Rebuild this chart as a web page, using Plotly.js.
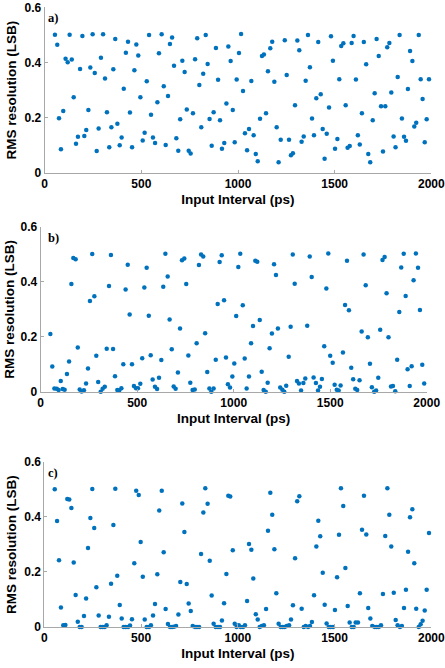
<!DOCTYPE html>
<html>
<head>
<meta charset="utf-8">
<script src="https://cdn.plot.ly/plotly-3.0.1.min.js"></script>
<style>html,body{margin:0;padding:0;background:#fff;}#chart{width:445px;height:668px;}</style>
</head>
<body>
<div id="chart"></div>
<script>
// Panel a)
var xa = [53,65,74,84,96,108,119,129,140,150,162,172,183,195,205,215,226,236,248,259,269,279,291,302,312,322,334,345,355,365,376,388,398,409,420,431,441,452,464,474,484,495,507,517,528,540,550,560,571,583,591,605,616,626,638,648,659,669,681,691,701,712,724,735,745,755,767,778,789,800,810,820,833,843,853,864,874,886,897,907,917,929,940,950,962,973,983,993,1005,1016,1026,1036,1047,1057,1069,1081,1092,1102,1114,1124,1134,1145,1155,1167,1177,1188,1200,1210,1221,1242,1252,1264,1274,1284,1295,1307,1317,1329,1340,1350,1362,1372,1383,1393,1405,1415,1428,1438,1448,1459,1471,1481,1491,1502,1514,1524,1534,1545,1557,1567,1578,1588,1598,1610,1620,1630,1641,1651,1663,1674,1684,1697,1707,1717,1728,1740,1750,1762,1772,1783,1793,1805,1815,1826,1836,1848,1859,1869,1879,1890,1902,1912,1922,1935,1945,1955,1966,1976,1988];
var ya = [0.50,0.464,0.197,0.084,0.223,0.413,0.40,0.50,0.41,0.273,0.104,0.13,0.376,0.496,0.133,0.154,0.227,0.381,0.502,0.361,0.078,0.16,0.417,0.502,0.341,0.219,0.092,0.164,0.375,0.485,0.177,0.099,0.127,0.304,0.435,0.475,0.218,0.092,0.371,0.465,0.425,0.273,0.116,0.144,0.331,0.499,0.21,0.127,0.107,0.255,0.433,0.502,0.313,0.10,0.278,0.467,0.49,0.388,0.124,0.079,0.193,0.406,0.365,0.229,0.079,0.069,0.215,0.411,0.488,0.318,0.164,0.359,0.499,0.394,0.194,0.097,0.219,0.452,0.337,0.19,0.086,0.107,0.251,0.458,0.405,0.227,0.11,0.338,0.434,0.503,0.296,0.143,0.081,0.158,0.332,0.135,0.067,0.041,0.195,0.423,0.429,0.215,0.368,0.451,0.475,0.33,0.164,0.037,0.119,0.48,0.354,0.119,0.063,0.07,0.244,0.479,0.444,0.112,0.131,0.333,0.499,0.382,0.196,0.135,0.27,0.474,0.284,0.158,0.05,0.141,0.236,0.495,0.406,0.086,0.122,0.339,0.459,0.469,0.244,0.09,0.096,0.47,0.496,0.338,0.135,0.102,0.215,0.474,0.393,0.067,0.037,0.19,0.288,0.485,0.423,0.241,0.076,0.241,0.455,0.47,0.291,0.131,0.092,0.347,0.499,0.196,0.13,0.115,0.303,0.441,0.405,0.167,0.181,0.499,0.339,0.267,0.11,0.193,0.339];

// Panel b)
var xb = [50,60,71,83,93,104,114,124,136,147,159,169,181,192,202,212,224,235,245,255,267,278,288,298,311,321,332,342,354,364,375,385,397,407,418,428,440,451,461,473,483,494,504,516,526,537,549,560,570,580,592,603,613,625,635,646,658,668,679,689,699,711,722,732,744,754,765,775,787,798,808,820,831,842,852,863,874,884,896,907,917,927,938,950,960,970,981,993,1003,1013,1024,1034,1047,1057,1067,1079,1090,1100,1112,1122,1135,1145,1155,1166,1176,1186,1198,1209,1219,1229,1241,1252,1262,1272,1285,1295,1306,1316,1328,1338,1349,1361,1371,1381,1394,1404,1414,1426,1437,1447,1457,1469,1480,1490,1500,1513,1523,1534,1544,1554,1566,1577,1587,1597,1609,1619,1630,1640,1652,1663,1673,1684,1695,1706,1716,1728,1738,1749,1759,1771,1782,1792,1802,1815,1825,1837,1847,1858,1868,1881,1891,1901,1912,1922,1932,1944,1955,1965,1977,1987];
var yb = [0.21,0.092,0.012,0.011,0.006,0.039,0.01,0.007,0.064,0.11,0.392,0.486,0.482,0.161,0.008,0.001,0.005,0.03,0.084,0.33,0.501,0.347,0.131,0.035,0.0,0.011,0.018,0.156,0.384,0.497,0.155,0.056,0.006,0.004,0.013,0.10,0.372,0.462,0.281,0.10,0.021,0.013,0.013,0.029,0.122,0.379,0.451,0.276,0.133,0.044,0.018,0.01,0.051,0.115,0.382,0.502,0.419,0.263,0.154,0.019,0.011,0.07,0.23,0.478,0.484,0.392,0.132,0.033,0.006,0.008,0.176,0.461,0.499,0.492,0.213,0.072,0.012,0.0,0.012,0.116,0.319,0.472,0.496,0.333,0.124,0.027,0.015,0.055,0.103,0.275,0.453,0.502,0.314,0.121,0.012,0.055,0.176,0.239,0.476,0.473,0.261,0.073,0.006,0.0,0.033,0.158,0.212,0.463,0.424,0.23,0.015,0.007,0.0,0.022,0.127,0.236,0.499,0.393,0.039,0.03,0.004,0.032,0.048,0.24,0.492,0.417,0.052,0.032,0.004,0.018,0.046,0.165,0.375,0.503,0.131,0.105,0.025,0.007,0.004,0.023,0.143,0.315,0.476,0.296,0.087,0.045,0.011,0.006,0.042,0.219,0.499,0.387,0.198,0.102,0.016,0.0,0.004,0.051,0.225,0.479,0.49,0.358,0.198,0.019,0.021,0.002,0.116,0.29,0.452,0.502,0.348,0.082,0.021,0.093,0.405,0.503,0.451,0.297,0.098,0.03];

// Panel c)
var xc = [54,66,76,86,98,109,119,129,140,152,162,173,183,193,205,216,226,238,248,258,269,281,291,302,312,322,334,345,357,367,377,390,400,410,421,433,443,453,465,475,488,498,509,519,529,541,551,562,572,584,594,607,617,627,639,650,660,670,681,693,703,713,724,736,746,757,767,779,789,800,810,822,832,844,855,865,875,886,898,908,918,929,941,951,961,974,984,994,1005,1015,1027,1037,1048,1058,1070,1080,1093,1103,1113,1124,1135,1146,1156,1168,1178,1189,1199,1211,1222,1232,1242,1253,1265,1275,1285,1296,1307,1318,1330,1341,1351,1363,1373,1383,1394,1406,1416,1426,1439,1449,1459,1470,1480,1492,1502,1513,1523,1533,1545,1556,1568,1578,1589,1599,1609,1621,1631,1642,1652,1664,1674,1685,1695,1708,1718,1728,1740,1750,1762,1773,1783,1793,1806,1816,1826,1838,1848,1859,1869,1880,1890,1902,1912,1922,1935,1945,1955,1966,1976,1988];
var yc = [0.499,0.384,0.242,0.071,0.006,0.007,0.464,0.462,0.431,0.234,0.116,0.019,0.0,0.0,0.04,0.103,0.286,0.395,0.50,0.359,0.144,0.042,0.0,0.0,0.0,0.006,0.037,0.157,0.37,0.501,0.186,0.08,0.031,0.0,0.0,0.0,0.005,0.028,0.231,0.494,0.479,0.308,0.182,0.027,0.0,0.0,0.006,0.042,0.083,0.191,0.422,0.494,0.271,0.065,0.011,0.0,0.0,0.001,0.004,0.045,0.163,0.448,0.344,0.156,0.085,0.058,0.004,0.0,0.0,0.0,0.265,0.415,0.503,0.447,0.24,0.114,0.012,0.0,0.0,0.0,0.024,0.086,0.192,0.476,0.473,0.278,0.012,0.0,0.006,0.0,0.0,0.006,0.094,0.301,0.28,0.176,0.046,0.027,0.0,0.004,0.006,0.065,0.349,0.487,0.407,0.282,0.122,0.012,0.0,0.0,0.0,0.004,0.006,0.027,0.079,0.249,0.456,0.474,0.066,0.0,0.004,0.0,0.004,0.018,0.115,0.292,0.385,0.329,0.197,0.081,0.013,0.0,0.0,0.0,0.062,0.18,0.334,0.503,0.439,0.214,0.076,0.016,0.0,0.0,0.016,0.016,0.122,0.353,0.476,0.335,0.069,0.031,0.004,0.0,0.0,0.0,0.006,0.12,0.33,0.503,0.407,0.292,0.124,0.025,0.006,0.0,0.004,0.069,0.135,0.273,0.398,0.427,0.231,0.066,0.0,0.01,0.023,0.06,0.135,0.341];

var xTicks = [0, 500, 1000, 1500, 2000];
var yTicks = [0, 0.2, 0.4, 0.6];
var panelLabels = ['a)', 'b)', 'c)'];
var xTitle = 'Input Interval (ps)';
var yTitle = 'RMS resolution (LSB)';

var W = 445, H = 668;
var boxes = [
  {l: 44.7, r: 431.3, t: 7.3, b: 172.5, yt: 11.7},
  {l: 40.7, r: 426.7, t: 226.7, b: 391.7, yt: 9.5},
  {l: 44.3, r: 431.3, t: 461.5, b: 627, yt: 11.7}
];
var series = [[xa, ya], [xb, yb], [xc, yc]];
var blue = '#0072BD';
var axisCol = '#a8a8a8';
var fontFam = '"Liberation Sans", Arial, sans-serif';

var data = [];
var layout = {
  width: W, height: H,
  margin: {l: 0, r: 0, t: 0, b: 0},
  paper_bgcolor: '#fff', plot_bgcolor: '#fff',
  showlegend: false,
  font: {family: fontFam, color: '#000'},
  annotations: []
};

for (var i = 0; i < 3; i++) {
  var sx = i === 0 ? '' : String(i + 1);
  data.push({
    type: 'scatter', mode: 'markers',
    x: series[i][0], y: series[i][1],
    xaxis: 'x' + sx, yaxis: 'y' + sx,
    cliponaxis: false,
    marker: {color: blue, size: 4.5}
  });
  var bx = boxes[i];
  layout['xaxis' + sx] = {
    domain: [bx.l / W, bx.r / W],
    anchor: 'y' + sx,
    range: [0, 2000],
    tickvals: xTicks, ticktext: xTicks.map(String),
    ticks: 'inside', ticklen: 3, tickcolor: axisCol, tickwidth: 1,
    showline: true, linecolor: axisCol, linewidth: 1,
    showgrid: false, zeroline: false,
    tickfont: {family: fontFam, size: 12, weight: 'bold', color: '#000'},
    title: {text: xTitle, font: {family: fontFam, size: 13.5, weight: 'bold', color: '#000'}, standoff: 4},
    automargin: false
  };
  layout['yaxis' + sx] = {
    domain: [1 - bx.b / H, 1 - bx.t / H],
    anchor: 'x' + sx,
    range: [0, 0.6],
    tickvals: yTicks, ticktext: yTicks.map(function (v) { return v === 0 ? '0' : v.toFixed(1); }),
    ticks: 'inside', ticklen: 3, tickcolor: axisCol, tickwidth: 1,
    showline: true, linecolor: axisCol, linewidth: 1,
    showgrid: false, zeroline: false,
    tickfont: {family: fontFam, size: 12, weight: 'bold', color: '#000'},
    automargin: false
  };
  // y-axis title (placed as rotated annotation for exact position)
  layout.annotations.push({
    xref: 'paper', yref: 'paper',
    x: bx.yt / W, y: 1 - ((bx.t + bx.b) / 2) / H,
    xanchor: 'center', yanchor: 'middle',
    textangle: -90,
    text: '<b>' + yTitle + '</b>', showarrow: false,
    font: {family: fontFam, size: 13.5, color: '#000'}
  });
  layout.annotations.push({
    xref: 'paper', yref: 'paper',
    x: 45.5 / W, y: 1 - (bx.t + 11) / H,
    xanchor: 'left', yanchor: 'middle',
    text: '<b>' + panelLabels[i] + '</b>', showarrow: false,
    font: {family: '"Liberation Serif", "Times New Roman", serif', size: 12.5, color: '#000'}
  });
}

Plotly.newPlot('chart', data, layout, {staticPlot: true, displayModeBar: false});
</script>
</body>
</html>
